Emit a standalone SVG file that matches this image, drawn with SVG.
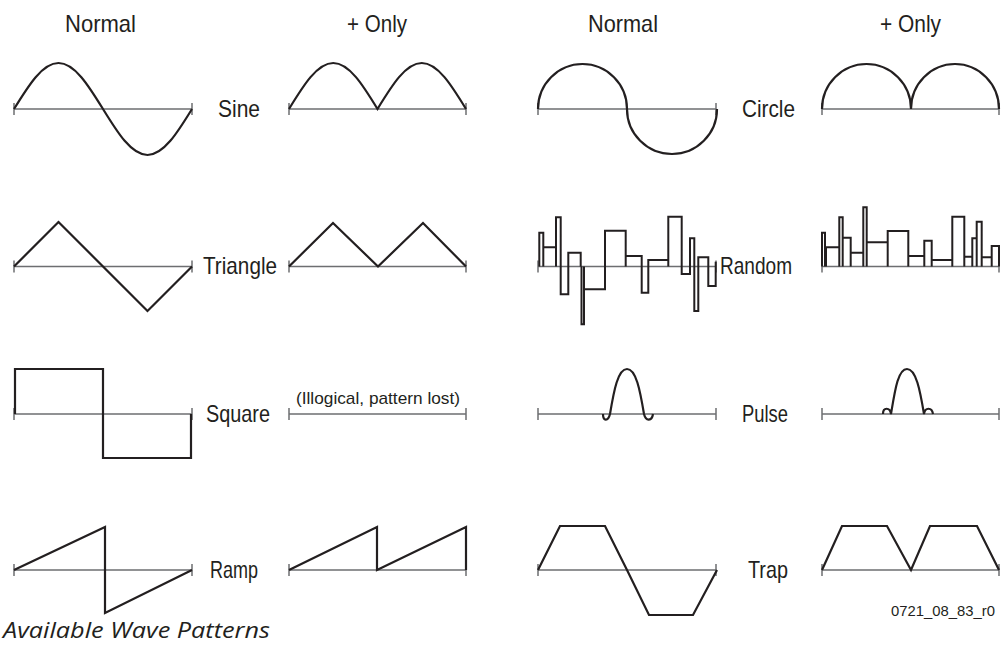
<svg xmlns="http://www.w3.org/2000/svg" width="1002" height="652" viewBox="0 0 1002 652">
<style>
.ax{stroke:#6d6e71;stroke-width:1.5;fill:none}
.tk{stroke:#6d6e71;stroke-width:1.5}
.w{stroke:#231f20;stroke-width:2.2;fill:none;stroke-linejoin:miter}
.r{stroke:#231f20;stroke-width:2;fill:none}
.lb{font-family:"Liberation Sans Narrow","Liberation Sans",Arial,sans-serif;font-size:24px;fill:#231f20}
.sm{font-family:"Liberation Sans Narrow","Liberation Sans",Arial,sans-serif;font-size:17px;fill:#231f20}
.id{font-family:"Liberation Sans Narrow","Liberation Sans",Arial,sans-serif;font-size:15px;fill:#231f20}
.cap{font-family:"Open Sans","Liberation Sans",sans-serif;font-style:italic;font-size:21px;fill:#231f20}
</style>
<defs>
<g id="axL"><line class="ax" x1="0" y1="0" x2="178" y2="0"/><line class="tk" x1="0" y1="-6" x2="0" y2="6"/><line class="tk" x1="178" y1="-6" x2="178" y2="6"/></g>
<g id="axR"><line class="ax" x1="0" y1="0" x2="177" y2="0"/><line class="tk" x1="0" y1="-6" x2="0" y2="6"/><line class="tk" x1="177" y1="-6" x2="177" y2="6"/></g>
</defs>

<g id="headers">
<text class="lb" x="65" y="32" textLength="71" lengthAdjust="spacingAndGlyphs">Normal</text>
<text class="lb" x="347" y="32" textLength="60" lengthAdjust="spacingAndGlyphs">+ Only</text>
<text class="lb" x="588" y="32" textLength="70" lengthAdjust="spacingAndGlyphs">Normal</text>
<text class="lb" x="880" y="32" textLength="61" lengthAdjust="spacingAndGlyphs">+ Only</text>
</g>

<g id="sine">
<use href="#axL" x="14" y="109"/>
<path class="w" d="M14,109 C28.51,85.43 42.4,63 58.5,63 C74.6,63 88.49,85.43 103,109 C117.51,132.57 131.4,155 147.5,155 C163.6,155 177.49,132.57 192,109"/>
<text class="lb" x="218" y="117" textLength="42" lengthAdjust="spacingAndGlyphs">Sine</text>
<use href="#axR" x="289" y="109"/>
<path class="w" d="M289,109 C303.43,85.43 317.24,63 333.25,63 C349.26,63 363.07,85.43 377.5,109 C391.93,85.43 405.74,63 421.75,63 C437.76,63 451.57,85.43 466,109"/>
</g>

<g id="triangle">
<use href="#axL" x="14" y="266.5"/>
<path class="w" d="M14,266.5 L58.5,222 L147.5,311 L192,266.5"/>
<text class="lb" x="203" y="274" textLength="74" lengthAdjust="spacingAndGlyphs">Triangle</text>
<use href="#axR" x="289" y="266.5"/>
<path class="w" d="M289,266.5 L333,223 L378,266.5 L423,223 L466,266.5"/>
</g>

<g id="square">
<use href="#axL" x="14" y="414"/>
<path class="w" d="M15,414 L15,369 L103,369 L103,458 L191,458 L191,414"/>
<text class="lb" x="206" y="422" textLength="64" lengthAdjust="spacingAndGlyphs">Square</text>
<use href="#axR" x="289" y="414"/>
<text class="sm" x="296" y="404" textLength="164" lengthAdjust="spacingAndGlyphs">(Illogical, pattern lost)</text>
</g>

<g id="ramp">
<use href="#axL" x="14" y="570"/>
<path class="w" d="M14,570 L105,527 L105,613 L192,570"/>
<text class="lb" x="210" y="578" textLength="48" lengthAdjust="spacingAndGlyphs">Ramp</text>
<use href="#axR" x="289" y="570"/>
<path class="w" d="M289,570 L377,527 L377,570 L466,527 L466,570"/>
</g>

<g id="circle">
<use href="#axL" x="538" y="109"/>
<path class="w" d="M538,109 A44.5,45 0 0 1 627,109 A45,45 0 0 0 717,109"/>
<text class="lb" x="742" y="117" textLength="53" lengthAdjust="spacingAndGlyphs">Circle</text>
<use href="#axR" x="822" y="109"/>
<path class="w" d="M822,109 A44.5,45 0 0 1 911,109 A44,45 0 0 1 999,109"/>
</g>

<g id="random">
<use href="#axL" x="538" y="266.5"/>
<path class="r" d="M539.3,266.5V232.7H543.3V266.5 M543.3,266.5V247.3H556V266.5 M556,266.5V217.3H560.7V266.5 M560.7,266.5V294.3H568.3V266.5 M568.3,266.5V252.7H580.7V266.5 M581.5,266.5V324.3H584V266.5 M584,266.5V289.3H605V266.5 M605,266.5V230.7H625.7V266.5 M625.7,266.5V256H641.7V266.5 M641.7,266.5V292.7H648.3V266.5 M648.3,266.5V260H668.3V266.5 M668.3,266.5V216.7H681.7V266.5 M681.7,266.5V274H690V266.5 M690,266.5V238.3H694.3V266.5 M694.3,266.5V311H698.3V266.5 M698.3,266.5V257.3H708.3V266.5 M708.3,266.5V286H715.7V266.5 M715.7,266.5V261.7"/>
<text class="lb" x="720" y="274" textLength="72" lengthAdjust="spacingAndGlyphs">Random</text>
<use href="#axR" x="822" y="266.5"/>
<path class="r" d="M822,266.5V232.7H825V266.5 M826,266.5V247.3H839.3V266.5 M839.3,266.5V217.3H842.7V266.5 M842.7,266.5V237.7H850.7V266.5 M850.7,266.5V252.7H863.3V266.5 M863.3,266.5V207.3H866.7V266.5 M866.7,266.5V242.3H887.7V266.5 M887.7,266.5V231H908.3V266.5 M908.3,266.5V256H924.3V266.5 M924.3,266.5V240.7H931.7V266.5 M931.7,266.5V260H952.3V266.5 M952.3,266.5V216.7H964.3V266.5 M964.3,266.5V256.7H972.3V266.5 M972.3,266.5V238.3H976.7V266.5 M976.7,266.5V221.7H981.7V266.5 M981.7,266.5V257.3H991.7V266.5 M991.7,266.5V246H999V266.5"/>
</g>

<g id="pulse">
<use href="#axL" x="538" y="414"/>
<path class="w" d="M603,414 C603,421 608,422 610,414 C614,390 618,369 627,369 C636,369 640,390 644,414 C646,422 652,421 653,414"/>
<text class="lb" x="742" y="422" textLength="46" lengthAdjust="spacingAndGlyphs">Pulse</text>
<use href="#axR" x="822" y="414"/>
<path class="w" d="M883,414 C883,407 890,407 891,414 C895,390 898,369 907,369 C916,369 920,390 924,414 C925,407 932,407 933,414"/>
</g>

<g id="trap">
<use href="#axL" x="538" y="570"/>
<path class="w" d="M538,570 L560,526 L605,526 L627,570 L649,615 L693,615 L717,570"/>
<text class="lb" x="748" y="578" textLength="40" lengthAdjust="spacingAndGlyphs">Trap</text>
<use href="#axR" x="822" y="570"/>
<path class="w" d="M822,570 L842,526 L887,526 L911,570 L930,526 L977,526 L999,570"/>
</g>

<g id="notes">
<text class="id" x="891" y="616" textLength="104" lengthAdjust="spacingAndGlyphs">0721_08_83_r0</text>
<text class="cap" x="3" y="638" textLength="267" lengthAdjust="spacingAndGlyphs">Available Wave Patterns</text>
</g>
</svg>
